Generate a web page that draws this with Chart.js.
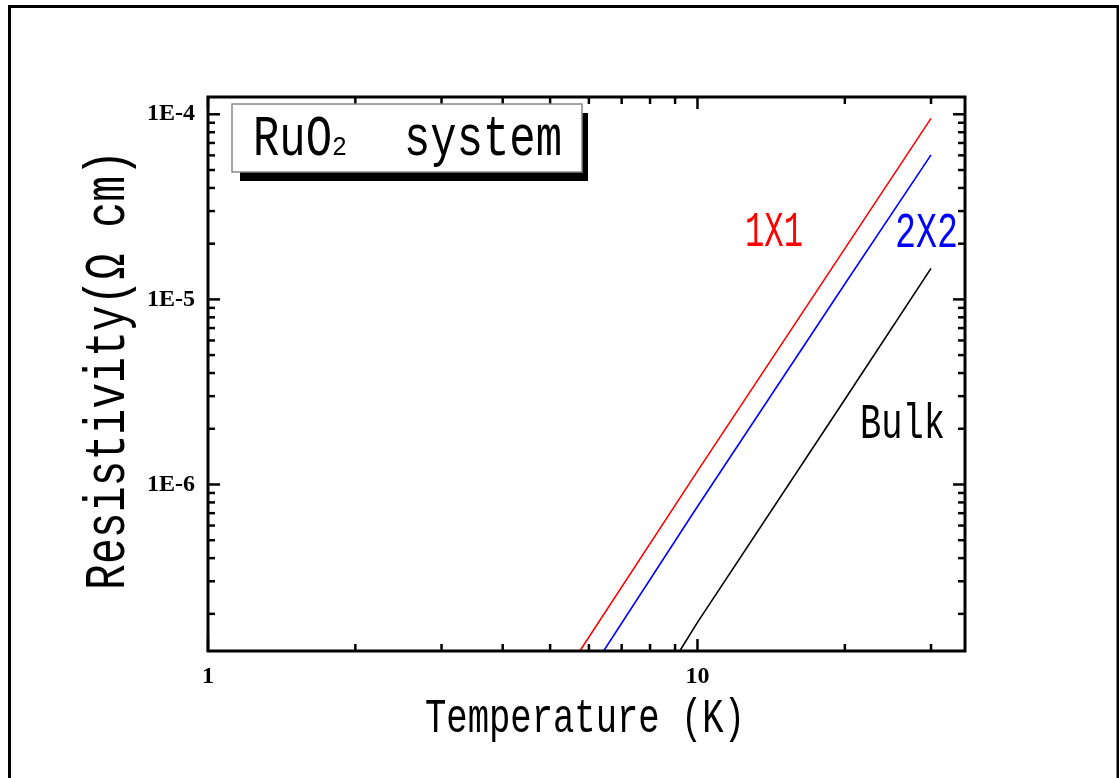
<!DOCTYPE html>
<html>
<head>
<meta charset="utf-8">
<script src="https://cdn.jsdelivr.net/npm/chart.js@4"></script>
<style>
  html, body { margin: 0; padding: 0; background: #fff; }
  #wrap { width: 1119px; height: 778px; position: relative; }
</style>
</head>
<body>
<div id="wrap"><canvas id="rhoChart"></canvas></div>
<script>
// values
const seriesNames = ['1X1', '2X2', 'Bulk'];
const seriesColors = ['#ff0000', '#0000ff', '#000000'];
const temp1x1 = [5.75, 10, 20, 30];
const rho1x1 = [1.26e-7, 1.18e-6, 1.88e-5, 9.5e-5];
const temp2x2 = [6.43, 10, 20, 30];
const rho2x2 = [1.26e-7, 7.6e-7, 1.21e-5, 6.04e-5];
const tempBulk = [9.2, 10, 20, 30];
const rhoBulk = [1.26e-7, 1.8e-7, 2.88e-6, 1.47e-5];

const xTickValues = [1, 10];
const xTickLabels = ['1', '10'];
const yTickValues = [1e-6, 1e-5, 1e-4];
const yTickLabels = ['1E-6', '1E-5', '1E-4'];

const temps = [temp1x1, temp2x2, tempBulk];
const rhos = [rho1x1, rho2x2, rhoBulk];

const monoFont = '"Liberation Mono", "DejaVu Sans Mono", monospace';

// draw text squeezed/stretched to a given width (tall narrow glyphs as in the original)
function stretchText(ctx, text, x, y, size, width, color) {
    ctx.save();
    ctx.font = size + 'px ' + monoFont;
    ctx.fillStyle = color;
    ctx.textAlign = 'left';
    ctx.textBaseline = 'alphabetic';
    const w = ctx.measureText(text).width;
    ctx.translate(x, y);
    ctx.scale(width / w, 1);
    ctx.fillText(text, 0, 0);
    ctx.restore();
}

function line(ctx, x1, y1, x2, y2) {
    ctx.beginPath();
    ctx.moveTo(x1, y1);
    ctx.lineTo(x2, y2);
    ctx.stroke();
}

const decorPlugin = {
    id: 'decor',
    afterDraw(chart) {
        const ctx = chart.ctx;
        const xs = chart.scales.x, ys = chart.scales.y;
        const { left, right, top, bottom } = chart.chartArea;

        ctx.save();
        // outer frame
        ctx.strokeStyle = '#000';
        ctx.lineWidth = 3;
        ctx.strokeRect(9.5, 6.5, 1108.5, 800);

        // plot frame
        ctx.lineWidth = 3;
        ctx.strokeRect(left, top, right - left, bottom - top);

        // inward ticks on all four sides
        ctx.lineWidth = 2.5;
        [1, 10].forEach(d => {
            for (let m = 1; m <= 9; m++) {
                const v = m * d;
                if (v < xs.min || v > xs.max) continue;
                const px = xs.getPixelForValue(v);
                const len = m === 1 ? 12 : 7;
                line(ctx, px, bottom, px, bottom - len);
                line(ctx, px, top, px, top + len);
            }
        });
        [1e-7, 1e-6, 1e-5, 1e-4].forEach(d => {
            for (let m = 1; m <= 9; m++) {
                const v = m * d;
                if (v < ys.min || v > ys.max) continue;
                const py = ys.getPixelForValue(v);
                const len = m === 1 ? 12 : 7;
                line(ctx, left, py, left + len, py);
                line(ctx, right, py, right - len, py);
            }
        });

        // series labels
        stretchText(ctx, seriesNames[0], 745, 246, 50, 58, seriesColors[0]);
        stretchText(ctx, seriesNames[1], 895, 247, 50, 63, seriesColors[1]);
        stretchText(ctx, seriesNames[2], 860, 438, 50, 85, seriesColors[2]);

        // axis titles
        stretchText(ctx, 'Temperature (K)', 425, 732, 49, 320, '#000');
        ctx.save();
        ctx.translate(124, 590);
        ctx.rotate(-Math.PI / 2);
        stretchText(ctx, 'Resistivity(\u03A9 cm)', 0, 0, 58, 440, '#000');
        ctx.restore();

        // label box with shadow
        ctx.fillStyle = '#000';
        ctx.fillRect(240, 113, 348, 68);
        ctx.fillStyle = '#fff';
        ctx.fillRect(232, 104, 350, 68);
        ctx.strokeStyle = '#888';
        ctx.lineWidth = 1.5;
        ctx.strokeRect(232, 104, 350, 68);
        stretchText(ctx, 'RuO', 253, 155, 57, 79, '#000');
        stretchText(ctx, '2', 332, 155, 27, 15, '#000');
        stretchText(ctx, 'system', 404, 155, 57, 158, '#000');
        ctx.restore();
    }
};

const datasets = seriesNames.map((name, i) => ({
    label: name,
    data: temps[i].map((t, j) => ({ x: t, y: rhos[i][j] })),
    borderColor: seriesColors[i],
    borderWidth: 1.6,
    pointRadius: 0,
    fill: false,
    tension: 0
}));

const tickFont = { family: '"Liberation Serif", "DejaVu Serif", serif', weight: 'bold', size: 24 };

new Chart(document.getElementById('rhoChart').getContext('2d'), {
    type: 'line',
    data: { datasets: datasets },
    options: {
        responsive: true,
        maintainAspectRatio: false,
        animation: false,
        layout: { padding: { top: 97, right: 154, left: 0, bottom: 0 } },
        plugins: { legend: { display: false }, tooltip: { enabled: false } },
        scales: {
            x: {
                type: 'logarithmic',
                min: 1,
                max: 35.2,
                afterFit: s => { s.height = 127; },
                afterBuildTicks: s => { s.ticks = xTickValues.map(v => ({ value: v })); },
                grid: { display: false, drawTicks: false },
                border: { display: false },
                ticks: {
                    autoSkip: false,
                    maxRotation: 0,
                    padding: 11,
                    color: '#000',
                    font: tickFont,
                    callback: (v, i) => xTickLabels[i]
                }
            },
            y: {
                type: 'logarithmic',
                min: 1.26e-7,
                max: 1.24e-4,
                afterFit: s => { s.width = 208; },
                afterBuildTicks: s => { s.ticks = yTickValues.map(v => ({ value: v })); },
                grid: { display: false, drawTicks: false },
                border: { display: false },
                ticks: {
                    autoSkip: false,
                    padding: 13,
                    color: '#000',
                    font: tickFont,
                    callback: (v, i) => yTickLabels[i]
                }
            }
        }
    },
    plugins: [decorPlugin]
});
</script>
</body>
</html>
